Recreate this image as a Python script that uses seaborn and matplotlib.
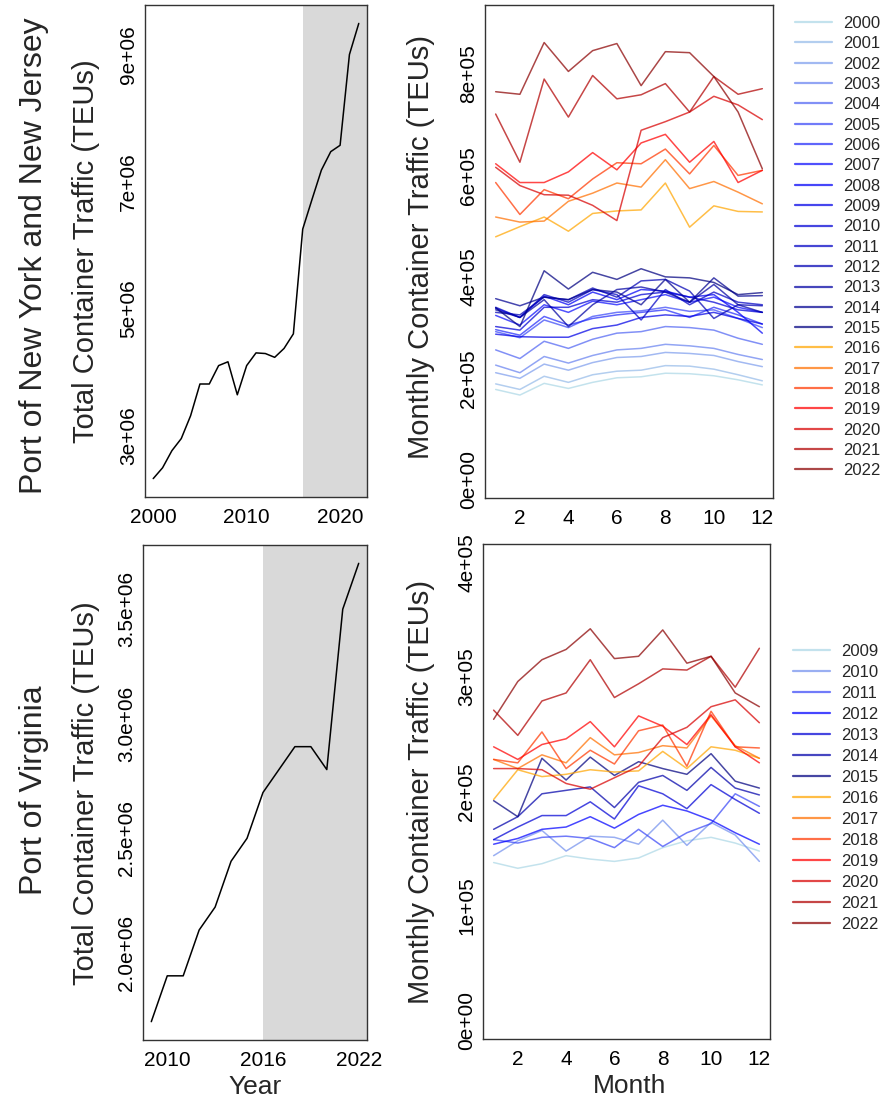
import matplotlib
matplotlib.use("Agg")
import matplotlib.pyplot as plt
import seaborn as sns
import pandas as pd
from matplotlib.colors import LinearSegmentedColormap
from matplotlib.lines import Line2D

# ---------------- data ----------------
ny_years = list(range(2000, 2023))
ny_total = [2.32e6, 2.49e6, 2.76e6, 2.95e6, 3.31e6, 3.81e6, 3.81e6, 4.10e6, 4.16e6,
            3.64e6, 4.10e6, 4.30e6, 4.29e6, 4.23e6, 4.37e6, 4.60e6, 6.25e6, 6.72e6,
            7.18e6, 7.47e6, 7.57e6, 9.00e6, 9.49e6]
va_years = list(range(2009, 2023))
va_total = [1.70e6, 1.90e6, 1.90e6, 2.10e6, 2.20e6, 2.40e6, 2.50e6, 2.70e6, 2.80e6,
            2.90e6, 2.90e6, 2.80e6, 3.50e6, 3.70e6]
months = list(range(1, 13))

# monthly TEUs (thousands), one row per year
ny_monthly_k = [
    [178, 167, 190, 180, 192, 201, 203, 210, 209, 205, 197, 187],  # 2000
    [189, 178, 204, 192, 207, 214, 216, 225, 224, 218, 207, 195],  # 2001
    [211, 200, 228, 216, 231, 241, 243, 251, 249, 245, 233, 223],  # 2002
    [226, 211, 243, 230, 245, 256, 259, 267, 264, 259, 247, 237],  # 2003
    [256, 239, 273, 259, 277, 289, 292, 302, 300, 295, 279, 267],  # 2004
    [292, 280, 315, 300, 322, 330, 333, 340, 332, 335, 318, 300],  # 2005
    [296, 285, 322, 305, 318, 325, 330, 335, 320, 340, 325, 307],  # 2006
    [324, 305, 345, 330, 352, 345, 355, 365, 350, 360, 340, 330],  # 2007
    [338, 320, 362, 345, 370, 355, 375, 372, 360, 365, 330, 289],  # 2008
    [287, 282, 281, 281, 298, 305, 320, 325, 322, 330, 318, 307],  # 2009
    [302, 295, 340, 340, 355, 350, 365, 370, 360, 350, 335, 330],  # 2010
    [340, 320, 365, 350, 375, 365, 315, 375, 345, 370, 350, 345],  # 2011
    [330, 325, 360, 355, 378, 360, 392, 395, 372, 318, 345, 343],  # 2012
    [335, 320, 355, 302, 345, 375, 380, 370, 350, 385, 345, 330],  # 2013
    [357, 343, 360, 355, 375, 370, 345, 395, 350, 398, 362, 363],  # 2014
    [339, 302, 412, 376, 409, 395, 416, 400, 398, 389, 365, 369],  # 2015
    [479, 499, 518, 490, 525, 530, 532, 585, 498, 540, 529, 528],  # 2016
    [518, 508, 510, 549, 565, 585, 577, 631, 574, 588, 567, 544],  # 2017
    [586, 523, 572, 554, 593, 625, 623, 652, 603, 659, 600, 610],  # 2018
    [623, 586, 586, 607, 645, 611, 664, 681, 626, 667, 586, 610],  # 2019
    [616, 580, 562, 561, 541, 511, 689, 706, 725, 756, 739, 710],  # 2020
    [721, 626, 790, 715, 797, 751, 759, 781, 725, 795, 760, 771],  # 2021
    [765, 760, 862, 805, 846, 860, 777, 844, 842, 795, 725, 613],  # 2022
]
va_monthly_k = [
    [138, 133, 137, 144, 141, 139, 142, 151, 157, 160, 155, 148],  # 2009
    [144, 157, 166, 148, 161, 160, 154, 175, 153, 173, 162, 139],  # 2010
    [158, 155, 160, 161, 159, 151, 167, 152, 164, 172, 198, 187],  # 2011
    [154, 159, 167, 169, 178, 168, 180, 188, 183, 175, 164, 154],  # 2012
    [158, 169, 179, 179, 191, 176, 205, 198, 185, 206, 193, 181],  # 2013
    [167, 178, 198, 201, 204, 186, 208, 214, 201, 221, 203, 197],  # 2014
    [192, 178, 229, 210, 230, 214, 226, 220, 215, 233, 209, 203],  # 2015
    [193, 219, 213, 215, 219, 217, 218, 235, 220, 239, 236, 229],  # 2016
    [228, 220, 232, 225, 247, 232, 234, 240, 238, 266, 240, 229],  # 2017
    [228, 225, 252, 220, 236, 224, 253, 258, 222, 270, 239, 238],  # 2018
    [239, 228, 241, 246, 261, 239, 266, 257, 241, 267, 239, 225],  # 2019
    [220, 220, 219, 207, 202, 212, 222, 247, 256, 274, 280, 260],  # 2020
    [271, 249, 279, 286, 315, 282, 294, 307, 306, 318, 291, 325],  # 2021
    [263, 296, 315, 324, 342, 316, 318, 341, 312, 318, 286, 274],  # 2022
]
split_year = 2016

# ---------------- style ----------------
sns.set_style("white")
plt.rcParams["font.family"] = ["Liberation Sans", "DejaVu Sans"]
FG = "#333333"


def ramp(cols, n):
    cmap = LinearSegmentedColormap.from_list("r", cols)
    if n == 1:
        return [cmap(0.0)]
    return [cmap(i / (n - 1)) for i in range(n)]


def palette_for(years):
    pre = [y for y in years if y < split_year]
    post = [y for y in years if y >= split_year]
    cols = ramp(["#ADD8E6", "#0000FF", "#000080"], len(pre)) + \
        ramp(["#FFA500", "#FF0000", "#8B0000"], len(post))
    return {str(y): c[:3] for y, c in zip(years, cols)}


def style(ax):
    for s in ax.spines.values():
        s.set_color(FG)
        s.set_linewidth(1.0)
        s.set_visible(True)
    ax.tick_params(direction="out", length=7, width=1, color=FG,
                   labelsize=15, labelcolor="black", pad=1)
    ax.tick_params(axis="y", labelrotation=90, pad=-2)
    for lab in ax.get_yticklabels():
        lab.set_va("center")
    ax.grid(False)


W, H = 895, 1100
fig = plt.figure(figsize=(W / 100, H / 100), dpi=100)


def box(l, r, t, b):
    return [l / W, 1 - b / H, (r - l) / W, (b - t) / H]


ax_tl = fig.add_axes(box(145, 367, 5, 497))
ax_tr = fig.add_axes(box(485, 773, 5, 498))
ax_bl = fig.add_axes(box(143, 367, 545, 1040))
ax_br = fig.add_axes(box(483, 770, 544, 1039))


def total_panel(ax, years, totals, xlim, ylim, xt, xtl, yt, ytl):
    df = pd.DataFrame({"Year": years, "TEU": totals})
    ax.axvspan(split_year, xlim[1] + 1, color="#d9d9d9", lw=0, zorder=0)
    sns.lineplot(data=df, x="Year", y="TEU", color="black", lw=1.1, ax=ax)
    ax.set_xlim(*xlim)
    ax.set_ylim(*ylim)
    ax.set_xticks(xt)
    ax.set_xticklabels(xtl)
    ax.set_yticks(yt)
    ax.set_yticklabels(ytl)
    ax.set_xlabel("")
    ax.set_ylabel("")
    style(ax)


def monthly_panel(ax, years, monthly_k, ylim, yt, ytl, legend_xy, spacing):
    rows = []
    for y, vals in zip(years, monthly_k):
        for m, v in zip(months, vals):
            rows.append({"Year": str(y), "Month": m, "TEU": v * 1000})
    df = pd.DataFrame(rows)
    pal = palette_for(years)
    order = [str(y) for y in years]
    sns.lineplot(data=df, x="Month", y="TEU", hue="Year", hue_order=order,
                 palette=pal, lw=1.1, alpha=0.72, ax=ax, legend=False,
                 errorbar=None, sort=True)
    ax.set_xlim(0.56, 12.44)
    ax.set_ylim(*ylim)
    ax.set_xticks([2, 4, 6, 8, 10, 12])
    ax.set_xticklabels(["2", "4", "6", "8", "10", "12"])
    ax.set_yticks(yt)
    ax.set_yticklabels(ytl)
    ax.set_xlabel("")
    ax.set_ylabel("")
    style(ax)
    handles = [Line2D([0], [0], color=pal[k], alpha=0.72, lw=1.6) for k in order]
    ax.legend(handles, order, loc="upper left",
              bbox_to_anchor=(legend_xy[0] / W, 1 - legend_xy[1] / H),
              bbox_transform=fig.transFigure, frameon=False, fontsize=12,
              handlelength=2.2, handletextpad=0.7, labelspacing=spacing,
              borderaxespad=0, borderpad=0)


total_panel(ax_tl, ny_years, ny_total, (1999.12, 2022.88), (2.03e6, 9.78e6),
            [2000, 2005, 2010, 2015, 2020], ["2000", "", "2010", "", "2020"],
            [3e6, 4e6, 5e6, 6e6, 7e6, 8e6, 9e6],
            ["3e+06", "", "5e+06", "", "7e+06", "", "9e+06"])
total_panel(ax_bl, va_years, va_total, (2008.48, 2022.52), (1.62e6, 3.78e6),
            [2010, 2012, 2014, 2016, 2018, 2020, 2022],
            ["2010", "", "", "2016", "", "", "2022"],
            [2.0e6, 2.5e6, 3.0e6, 3.5e6],
            ["2.0e+06", "2.5e+06", "3.0e+06", "3.5e+06"])

monthly_panel(ax_tr, ny_years, ny_monthly_k, (-36000, 936000),
              [0, 2e5, 4e5, 6e5, 8e5],
              ["0e+00", "2e+05", "4e+05", "6e+05", "8e+05"], (795, 16), 0.32)
monthly_panel(ax_br, va_years, va_monthly_k, (-16000, 416000),
              [0, 1e5, 2e5, 3e5, 4e5],
              ["0e+00", "1e+05", "2e+05", "3e+05", "4e+05"], (793, 644), 0.36)

# ---------------- outer labels ----------------
def ftext(x, y, s, size, rot=90):
    fig.text(x / W, 1 - y / H, s, fontsize=size, rotation=rot,
             ha="center", va="center")


ftext(34, 256, "Port of New York and New Jersey", 23)
ftext(86, 251, "Total Container Traffic (TEUs)", 21)
ftext(421, 247, "Monthly Container Traffic (TEUs)", 21)
ftext(34, 790, "Port of Virginia", 23)
ftext(86, 793, "Total Container Traffic (TEUs)", 21)
ftext(421, 792, "Monthly Container Traffic (TEUs)", 21)
ftext(255, 1087, "Year", 19, rot=0)
ftext(630, 1086, "Month", 19, rot=0)

fig.savefig("out.png", dpi=100)
